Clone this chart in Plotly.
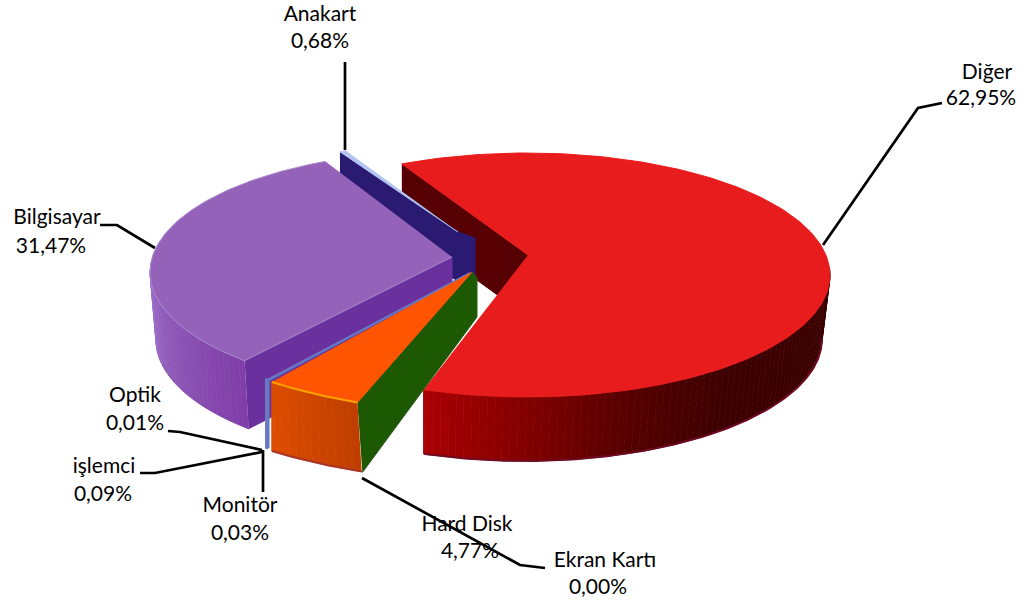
import numpy as np
import plotly.graph_objects as go

# ---- data ----
categories = ["Diğer", "Ekran Kartı", "Hard Disk", "Monitör", "işlemci", "Optik", "Bilgisayar", "Anakart"]
values = [62.95, 0.00, 4.77, 0.03, 0.09, 0.01, 31.47, 0.68]
val = dict(zip(categories, values))

# ---- label placement (pixels) ----
name_x = [987, 605, 467, 240, 104, 135, 57, 320]
name_y = [74, 562, 526, 507, 468, 397, 219, 16]
pct_x = [981, 598, 470, 240, 103, 135, 51, 320]
pct_y = [100, 589, 553, 535, 496, 425, 248, 43]
leaders = [
    ([942, 918, 823], [103, 108, 245]),
    ([362, 520, 545], [478, 565, 568]),
    ([263, 263], [450, 492]),
    ([140, 155, 262], [473, 473, 452]),
    ([168, 180, 262], [431, 432, 450]),
    ([100, 117, 155], [225, 225, 248]),
    ([345, 345], [62, 150]),
]

fig = go.Figure()


def poly(x, y, fill, line=None, w=1):
    fig.add_trace(go.Scatter(x=list(x), y=list(y), mode="lines", fill="toself", fillcolor=fill,
                             line=dict(color=line or fill, width=w), hoverinfo="skip", showlegend=False))


def path(x, y, color, w):
    fig.add_trace(go.Scatter(x=list(x), y=list(y), mode="lines", line=dict(color=color, width=w),
                             hoverinfo="skip", showlegend=False))


def rim(c, r, a0, a1, n=80):
    t = np.radians(np.linspace(a0, a1, n))
    return c[0] + r[0] * np.cos(t), c[1] + r[1] * np.sin(t)


def lerp(stops, t):
    ts = [s[0] for s in stops]
    ch = [np.interp(t, ts, [s[1][i] for s in stops]) for i in range(3)]
    return "rgb(%d,%d,%d)" % tuple(ch)


def wall(c, r, a0, a1, depth, stops, x0, k, step=1.5):
    edges = np.arange(a0, a1 + step, step)
    for u, v in zip(edges[:-1], edges[1:]):
        v = min(v, a1)
        x, y = rim(c, r, u, v, 4)
        xb = x0 + (x - x0) * k
        poly(np.r_[x, xb[::-1]], np.r_[y, y[::-1] + depth], lerp(stops, (u + v) / 2))


def span(name):
    return val[name] * 3.6


# ---- Diğer ----
c, r, a0, d = (527, 275), (303, 122), -114.4, 64
a1 = a0 + span("Diğer") * 0.99
apex = (528, 255)
rx, ry = rim(c, r, a0, a0, 1)
poly([rx[0], apex[0], apex[0], rx[0]], [ry[0], apex[1], apex[1] + d - 2, ry[0] + d - 2], "#560003")
wall(c, r, -3, a1, d, [(0, (58, 0, 0)), (50, (62, 0, 0)), (72, (90, 0, 0)), (92, (135, 0, 0)), (112, (175, 0, 4))], 425, 0.98)
x, y = rim(c, r, 0, a1, 160)
path(425 + (x - 425) * 0.98, y + d, "#6E0A22", 2)
x, y = rim(c, r, a0, a1, 200)
poly(np.r_[apex[0], x], np.r_[apex[1], y], "#E81C1C")

# ---- Anakart ----
c, r, a0 = (458, 232), (260, 90), 243.0
a1 = a0 + span("Anakart") * 0.6
rx, ry = rim(c, r, a0, a0, 1)
poly([rx[0], c[0], 475, 475, rx[0]], [ry[0], c[1], 238, 290, ry[0] + 66], "#2A1A72")
x, y = rim(c, r, a0, a1, 6)
poly(np.r_[c[0], x], np.r_[c[1], y], "#B4C5F4")

# ---- Bilgisayar ----
c, r, a0, d = (445, 272), (295, 121), 132.8, 68
a1 = a0 + span("Bilgisayar")
apex = (452, 257)
rx, ry = rim(c, r, a0, a0, 1)
poly([rx[0], apex[0], apex[0], rx[0] + 4], [ry[0], apex[1], apex[1] + d, ry[0] + d], "#6A309E")
wall(c, r, a0, 181, d, [(133, (128, 62, 168)), (155, (140, 84, 182)), (181, (158, 112, 200))], 450, 0.98)
x, y = rim(c, r, a0, a1, 120)
poly(np.r_[apex[0], x], np.r_[apex[1], y], "#9562B9", "#A988CF", 1)

# ---- Monitör, işlemci, Optik (thin slices) ----
c, r, apex, d = (513, 295), (350, 120), (470, 273), 67
a0 = 134.3
for name, col in zip(["Monitör", "işlemci", "Optik"], ["#6480C4", "#5472BE", "#6E78C4"]):
    a1 = a0 + span(name)
    x, y = rim(c, r, a0, a1, 3)
    poly(np.r_[apex[0], x], np.r_[apex[1], y], col, col, 1.5)
    poly(np.r_[x, x[::-1]], np.r_[y, y[::-1] + d], col, col, 3)
    a0 = a1

# ---- Ekran Kartı has 0,00%: nothing visible ----

# ---- Hard Disk ----
a0, d = 116.4, 69
a1 = a0 + span("Hard Disk")
apex = (472, 272)
rx, ry = rim(c, r, a0, a0, 1)
poly([rx[0], apex[0], 477, 477, rx[0] + 5], [ry[0], apex[1], 278, 317, ry[0] + d + 1], "#1D5803", "#2C5A1A")
wall(c, r, a0, a1, d, [(116, (190, 62, 0)), (134, (222, 78, 0))], 270, 1.05)
x, y = rim(c, r, a0, a1, 30)
path(270 + (x - 270) * 1.05, y + d, "#A8342A", 2)
poly(np.r_[apex[0], x], np.r_[apex[1], y], "#FF5400")
path(x, y, "#FFA200", 2)

# ---- leader lines ----
for lx, ly in leaders:
    path(lx, ly, "#000000", 2.7)

# ---- labels ----
font = dict(family="Lato, Carlito, sans-serif", size=21, color="#000000")
fig.add_trace(go.Scatter(x=name_x, y=name_y, mode="text", text=categories, textposition="middle center",
                         textfont=font, hoverinfo="skip", showlegend=False, cliponaxis=False))
fig.add_trace(go.Scatter(x=pct_x, y=pct_y, mode="text", text=[f"{v:.2f}%".replace(".", ",") for v in values],
                         textposition="middle center", textfont=font, hoverinfo="skip", showlegend=False, cliponaxis=False))

fig.update_layout(
    width=1031, height=603, margin=dict(l=0, r=0, t=0, b=0),
    paper_bgcolor="white", plot_bgcolor="white", showlegend=False,
    xaxis=dict(range=[0, 1031], visible=False, fixedrange=True),
    yaxis=dict(range=[603, 0], visible=False, fixedrange=True),
)
fig.write_html("out.html", post_script="document.body.style.margin='0';document.documentElement.style.overflow='hidden';",
               config=dict(displayModeBar=False))
